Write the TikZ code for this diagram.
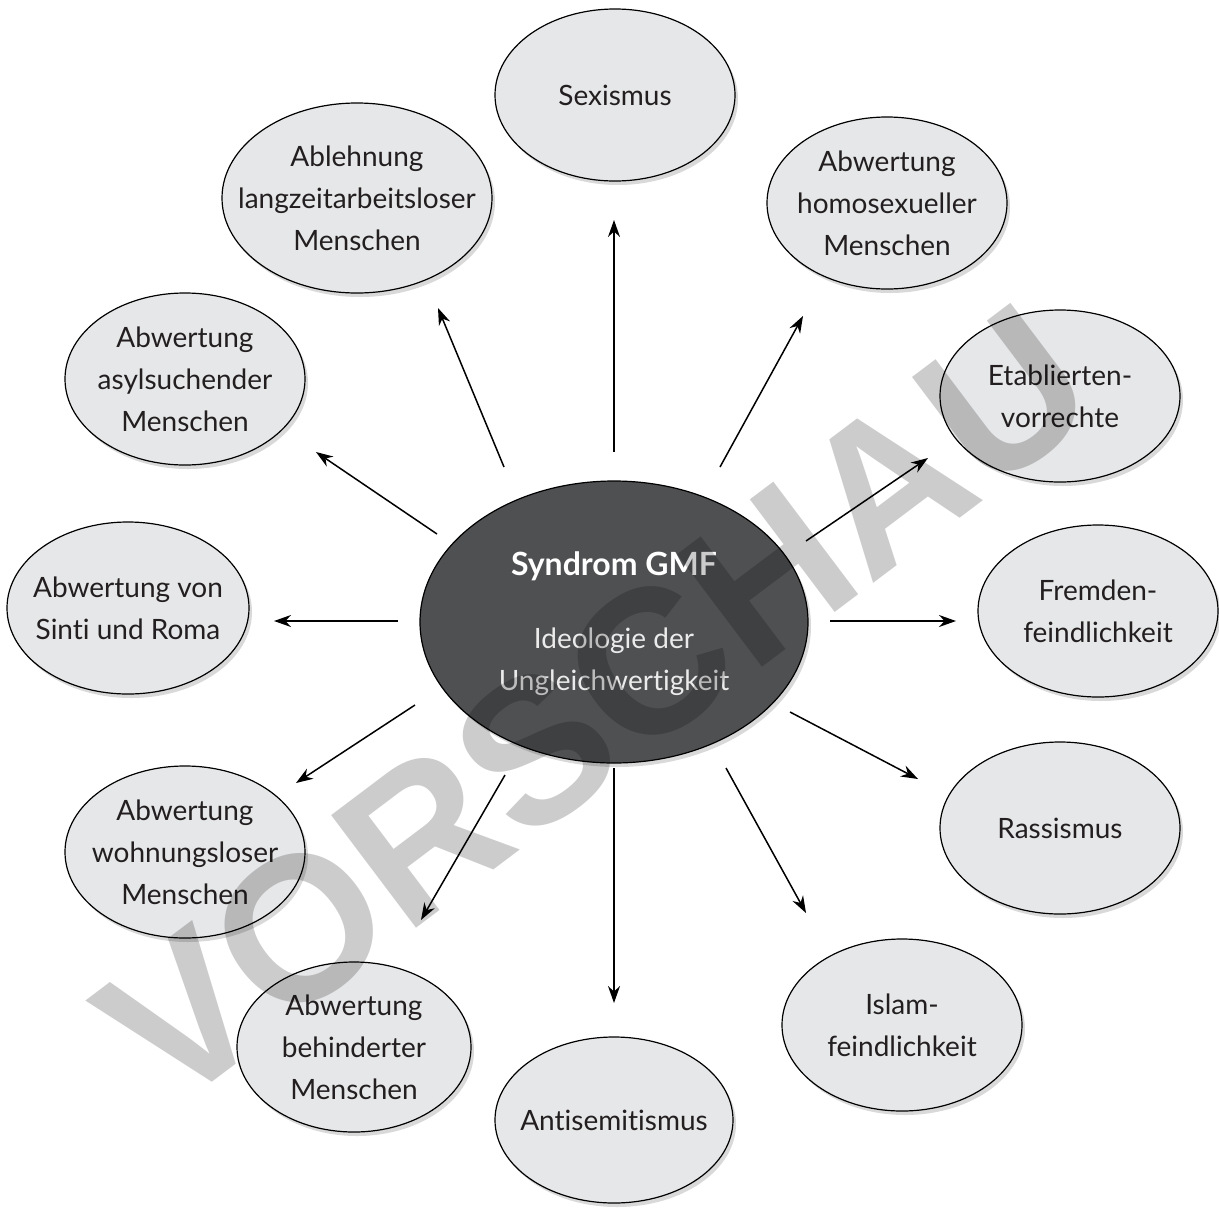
\documentclass[tikz,border=0pt]{standalone}
\usepackage{fontspec}
\setmainfont{Lato}[Ligatures=NoCommon]
\setsansfont{Liberation Sans}
\usetikzlibrary{shapes.geometric,arrows.meta,shadows}
\definecolor{ellfill}{HTML}{E6E7E8}
\definecolor{centfill}{HTML}{4F5052}
\definecolor{txt}{HTML}{231F20}
\begin{document}
\begin{tikzpicture}[x=1pt,y=-1pt,
  ell/.style={ellipse, draw=black, line width=1.2pt, fill=ellfill, inner sep=0pt,
    minimum width=240pt, minimum height=172pt,
    drop shadow={shadow xshift=3pt, shadow yshift=-4pt, opacity=0.3}},
  lab/.style={align=center, text=txt, inner sep=0pt, font=\fontsize{28}{42}\selectfont},
  arr/.style={line width=1.5pt, -{Stealth[length=17pt,width=12pt]}}]
\useasboundingbox (0,0) rectangle (1219,1211);

% outer ellipses
\node[ell] (sex) at (615,95) {};
\node[ell, minimum width=270pt, minimum height=190pt] (abl) at (357,198) {};
\node[ell] (hom) at (887,203) {};
\node[ell] (asy) at (185,379) {};
\node[ell] (eta) at (1060,396) {};
\node[ell, minimum width=242pt] (sin) at (128,608) {};
\node[ell] (fre) at (1098,611) {};
\node[ell] (ras) at (1060,828) {};
\node[ell] (woh) at (185,852) {};
\node[ell] (isl) at (902,1025) {};
\node[ell, minimum width=234pt, minimum height=170pt] (beh) at (354,1047) {};
\node[ell, minimum width=238pt, minimum height=166pt] (ant) at (614,1120) {};

% centre
\node[ellipse, draw=black, line width=1.2pt, fill=centfill, inner sep=0pt,
  minimum width=388pt, minimum height=282pt,
  drop shadow={shadow xshift=3pt, shadow yshift=-4pt, opacity=0.3}] (gmf) at (614,622) {};

% labels
\node[lab] (tsex) at (sex) {Sexismus};
\node[lab] (tabl) at (abl) {Ablehnung\\langzeitarbeitsloser\\Menschen};
\node[lab] (thom) at (hom) {Abwertung\\homosexueller\\Menschen};
\node[lab] (tasy) at (asy) {Abwertung\\asylsuchender\\Menschen};
\node[lab] (teta) at (eta) {Etablierten-\\vorrechte};
\node[lab] (tsin) at (sin) {Abwertung von\\Sinti und Roma};
\node[lab] (tfre) at (fre) {Fremden-\\feindlichkeit};
\node[lab] (tras) at (ras) {Rassismus};
\node[lab] (twoh) at (woh) {Abwertung\\wohnungsloser\\Menschen};
\node[lab] (tisl) at (isl) {Islam-\\feindlichkeit};
\node[lab] (tbeh) at (beh) {Abwertung\\behinderter\\Menschen};
\node[lab] (tant) at (ant) {Antisemitismus};
\node[text=white, font=\bfseries\fontsize{32}{38}\selectfont, inner sep=0pt, anchor=base] (ttitle) at (614,575) {Syndrom GMF};
\node[text=white!92!black, align=center, inner sep=0pt, anchor=base, font=\fontsize{28}{42}\selectfont] (tsub) at (614,690) {Ideologie der\\Ungleichwertigkeit};

% arrow ends
\coordinate (s1) at (614,452);  \coordinate (e1) at (614,220);
\coordinate (s2) at (504,467);  \coordinate (e2) at (438,308);
\coordinate (s3) at (720,467);  \coordinate (e3) at (803,316);
\coordinate (s4) at (437,534);  \coordinate (e4) at (316,452);
\coordinate (s5) at (806,541);  \coordinate (e5) at (928,458);
\coordinate (s6) at (398,621);  \coordinate (e6) at (274,621);
\coordinate (s7) at (830,621);  \coordinate (e7) at (956,621);
\coordinate (s8) at (415,705);  \coordinate (e8) at (296,783);
\coordinate (s9) at (790,712);  \coordinate (e9) at (918,779);
\coordinate (s10) at (505,775); \coordinate (e10) at (421,920);
\coordinate (s11) at (726,768); \coordinate (e11) at (806,913);
\coordinate (s12) at (614,768); \coordinate (e12) at (614,1003);
\foreach \i in {1,...,12} {\draw[arr] (s\i) -- (e\i);}

% watermark
\node[font=\sffamily\bfseries\fontsize{205}{205}\selectfont, text=black, text opacity=0.2, rotate=37, inner sep=0pt] (wm) at (595,705) {VORSCHAU};
\end{tikzpicture}
\end{document}
